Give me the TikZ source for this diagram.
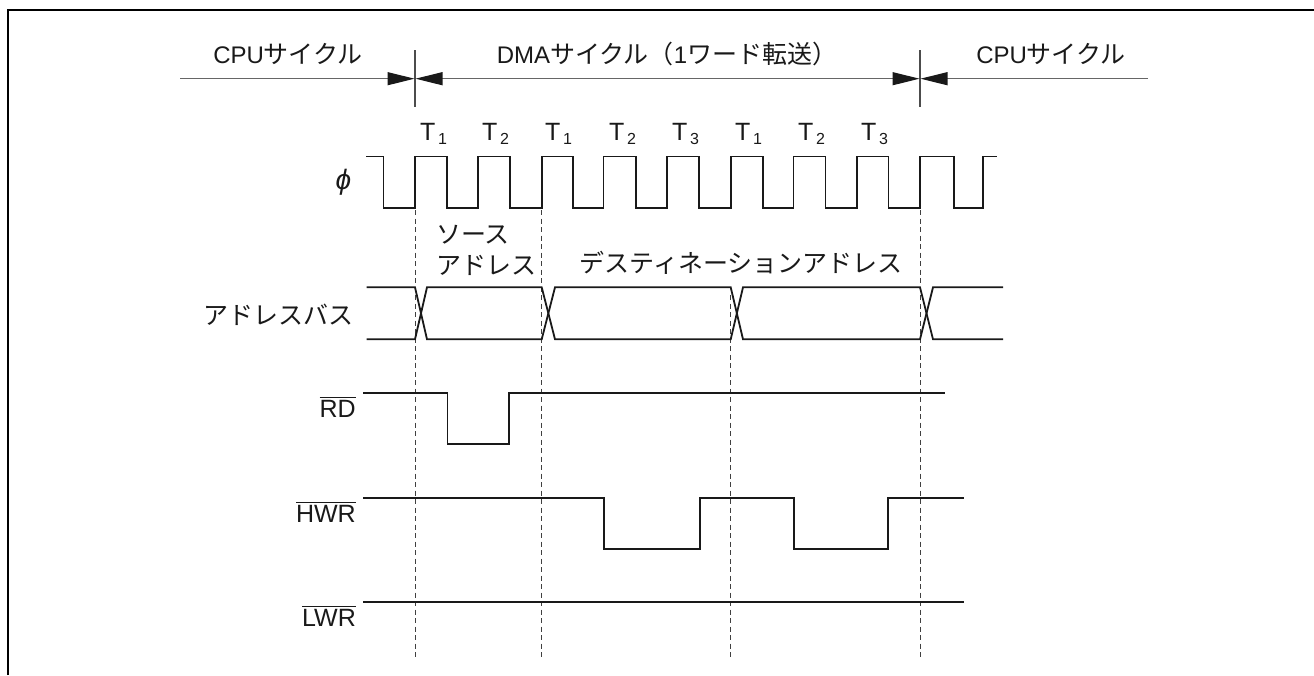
\documentclass[tikz,border=0pt]{standalone}
\usepackage{fontspec}
\setmainfont{Liberation Sans}
\newfontfamily\cjk{Noto Sans CJK JP}
\usetikzlibrary{arrows.meta}
\tikzset{
  wave/.style={line width=1.8pt, draw=black!90, line join=miter},
  thin line/.style={line width=1.1pt, draw=black!70},
  guide/.style={line width=0.9pt, draw=black!75, dash pattern=on 5pt off 3.5pt},
  span/.style={line width=1.1pt, draw=black!60, -{Triangle[length=27pt,width=13pt,black!90]}},
  lab/.style={font=\fontsize{25}{28}\selectfont, text=black!90, inner sep=0pt},
  jp/.style={font=\fontsize{24}{30}\selectfont, text=black!90, inner sep=0pt, align=left}
}
\newcommand{\J}[1]{{\cjk\fontsize{25}{30}\selectfont #1}}
\newcommand{\ovl}[1]{\vbox{\hrule height 1pt \kern 2.2pt \hbox{#1}}}
\begin{document}
\begin{tikzpicture}[x=1pt,y=-1pt]
\useasboundingbox (0,0) rectangle (1314,675);
\draw[line width=2pt,black] (8,675) -- (8,10) -- (1314,10);
% guides
\coordinate (g1t) at (415,210); \coordinate (g1b) at (415,660);
\coordinate (g2t) at (541.7,210); \coordinate (g2b) at (541.7,660);
\coordinate (g3t) at (730.5,295); \coordinate (g3b) at (730.5,660);
\coordinate (g4t) at (920,210); \coordinate (g4b) at (920,660);
\draw[guide] (g1t)--(g1b); \draw[guide] (g2t)--(g2b); \draw[guide] (g3t)--(g3b); \draw[guide] (g4t)--(g4b);
% spans
\coordinate (s1t) at (415,50); \coordinate (s1b) at (415,106.6);
\coordinate (s2t) at (920,50); \coordinate (s2b) at (920,106.6);
\draw[thin line] (s1t)--(s1b); \draw[thin line] (s2t)--(s2b);
\coordinate (a0) at (180,78.7); \coordinate (a1) at (414.5,78.7); \coordinate (a2) at (415.5,78.7);
\coordinate (a3) at (919.5,78.7); \coordinate (a4) at (920.5,78.7); \coordinate (a5) at (1148,78.7);
\coordinate (am) at (667,78.7);
\draw[span] (a0)--(a1);
\draw[span] (am)--(a2);
\draw[span] (am)--(a3);
\draw[span] (a5)--(a4);
\node[jp] (c1) at (288,54) {CPU\J{サイクル}};
\node[jp] (c2) at (667,54) {DMA\J{サイクル（}1\J{ワード転送）}};
\node[jp] (c3) at (1051,54) {CPU\J{サイクル}};
% T labels
\foreach \n/\x/\s in {t1/433.5/1,t2/495.5/2,t3/558.5/1,t4/622.5/2,t5/685.5/3,t6/748.5/1,t7/811.5/2,t8/874.5/3}
  \node[lab,anchor=base] (\n) at (\x,140) {T\raisebox{-4.5pt}{\fontsize{16}{16}\selectfont\,\s}};
% clock
\node[lab,font=\fontsize{28}{30}\selectfont] (phi) at (343.5,182) {\itshape ϕ};
\draw[wave] (366,156.5) -| (383.5,208.3) -| (415,156.5) -| (447,208.3) -| (478,156.5) -| (510,208.3) -| (541.7,156.5) -| (573,208.3) -| (603.5,156.5) -| (636,208.3) -| (667,156.5) -| (699,208.3) -| (730.7,156.5) -| (762.7,208.3) -| (793.5,156.5) -| (825.5,208.3) -| (856.7,156.5) -| (888.5,208.3) -| (920,156.5) -| (954,208.3) -| (983,156.5) -- (996.7,156.5);
\node[jp,anchor=west] (src1) at (436,235) {\J{ソース}};
\node[jp,anchor=west] (src2) at (436,265) {\J{アドレス}};
\node[jp] (dst) at (741,263) {\J{デスティネーションアドレス}};
% bus
\node[jp,anchor=east] (bus) at (354,315) {\J{アドレスバス}};
\def\bt{287.3}\def\bb{339.3}
\draw[wave] (366.7,\bt) -- (415,\bt) -- (427,\bb) -- (541.7,\bb) -- (555,\bt) -- (730.7,\bt) -- (743,\bb) -- (920,\bb) -- (933,\bt) -- (1003,\bt);
\draw[wave] (366.7,\bb) -- (415,\bb) -- (427,\bt) -- (541.7,\bt) -- (555,\bb) -- (730.7,\bb) -- (743,\bt) -- (920,\bt) -- (933,\bb) -- (1003,\bb);
% RD
\node[lab,anchor=base east] (rd) at (356,417) {\ovl{RD}};
\draw[wave] (363,392.7) -| (447.5,444) -| (508.7,392.7) -- (945,392.7);
% HWR
\node[lab,anchor=base east] (hwr) at (356,522) {\ovl{HWR}};
\draw[wave] (363,497.7) -| (604,549) -| (700,497.7) -| (794,549) -| (888,497.7) -- (964,497.7);
% LWR
\node[lab,anchor=base east] (lwr) at (356,626) {\ovl{LWR}};
\draw[wave] (363,602) -- (964,602);
\end{tikzpicture}
\end{document}
